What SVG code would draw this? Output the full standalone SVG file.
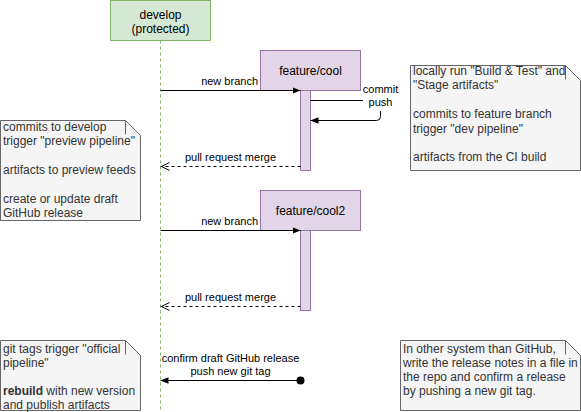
<svg xmlns="http://www.w3.org/2000/svg" width="581" height="412" viewBox="0 0 581 412">
<style>
text{font-family:"Liberation Sans",Arial,Helvetica,sans-serif;fill:#000}
.t12{font-size:12px}
.t11{font-size:11px}
.note{fill:#f5f5f5;stroke:#666666;stroke-width:1}
.fold{fill:none;stroke:#666666;stroke-width:1}
.nt{font-size:12px;fill:#333333}
.lane{fill:#d5e8d4;stroke:#82b366}
.feat{fill:#e1d5e7;stroke:#9673a6}
.life{stroke:#82b366;stroke-dasharray:3 3;fill:none}
.msg{stroke:#000;fill:none;stroke-width:1}
.dash{stroke-dasharray:3 3}
</style>
<defs>
<marker id="block" viewBox="0 0 10 10" refX="10" refY="5" markerWidth="8" markerHeight="8" markerUnits="userSpaceOnUse" orient="auto">
<path d="M0,1 L10,5 L0,9 Z" fill="#000"/>
</marker>
<marker id="open" viewBox="0 0 10 10" refX="10" refY="5" markerWidth="10" markerHeight="10" markerUnits="userSpaceOnUse" orient="auto">
<path d="M1,1 L9,5 L1,9" fill="none" stroke="#000" stroke-width="1"/>
</marker>
</defs>

<g id="develop">
<rect class="lane" x="110.5" y="0.5" width="100" height="40"/>
<text class="t12" x="160.5" y="18.5" text-anchor="middle">develop</text>
<text class="t12" x="160.5" y="32.5" text-anchor="middle">(protected)</text>
<line class="life" x1="160.5" y1="40.5" x2="160.5" y2="412"/>
</g>

<g id="feature-cool">
<rect class="feat" x="260.5" y="50.5" width="100" height="40"/>
<text class="t12" x="310.5" y="74.5" text-anchor="middle">feature/cool</text>
<rect class="feat" x="300.5" y="90.5" width="10" height="80"/>
</g>

<g id="feature-cool2">
<rect class="feat" x="260.5" y="190.5" width="100" height="40"/>
<text class="t12" x="310.5" y="214.5" text-anchor="middle">feature/cool2</text>
<rect class="feat" x="300.5" y="230.5" width="10" height="80"/>
</g>

<g id="connectors">
<line class="msg" x1="160.5" y1="90.5" x2="300.5" y2="90.5" marker-end="url(#block)"/>
<text class="t11" x="258" y="85" text-anchor="end">new branch</text>

<path class="msg" d="M310.5,100.5 H380.5 V116.5 Q380.5,120.5 376.5,120.5 H310.5" marker-end="url(#block)"/>
<rect x="363" y="83" width="35" height="28" fill="#fff"/>
<text class="t11" x="380.5" y="93" text-anchor="middle">commit</text>
<text class="t11" x="380.5" y="106" text-anchor="middle">push</text>

<line class="msg dash" x1="300.5" y1="166.5" x2="160.5" y2="166.5" marker-end="url(#open)"/>
<text class="t11" x="230.5" y="161" text-anchor="middle">pull request merge</text>

<line class="msg" x1="160.5" y1="230.5" x2="300.5" y2="230.5" marker-end="url(#block)"/>
<text class="t11" x="258" y="225" text-anchor="end">new branch</text>

<line class="msg dash" x1="300.5" y1="306.5" x2="160.5" y2="306.5" marker-end="url(#open)"/>
<text class="t11" x="230.5" y="301" text-anchor="middle">pull request merge</text>

<line class="msg" x1="300.5" y1="380.5" x2="160.5" y2="380.5" marker-end="url(#block)"/>
<circle cx="300.5" cy="380.5" r="4" fill="#000"/>
<text class="t11" x="230.5" y="362" text-anchor="middle">confirm draft GitHub release</text>
<text class="t11" x="230.5" y="375" text-anchor="middle">push new git tag</text>
</g>

<g id="note-local">
<path class="note" d="M410.5,65.5 H565.5 L580.5,80.5 V170.5 H410.5 Z"/>
<path class="fold" d="M565.5,65.5 V79.5"/>
<text class="nt" x="413" y="75">locally run "Build &amp; Test" and</text>
<text class="nt" x="413" y="89.4">"Stage artifacts"</text>
<text class="nt" x="413" y="118.2">commits to feature branch</text>
<text class="nt" x="413" y="132.6">trigger "dev pipeline"</text>
<text class="nt" x="413" y="161.4">artifacts from the CI build</text>
</g>

<g id="note-develop">
<path class="note" d="M0.5,120.5 H125.5 L140.5,135.5 V220.5 H0.5 Z"/>
<path class="fold" d="M125.5,120.5 V134.5"/>
<text class="nt" x="3" y="130.5">commits to develop</text>
<text class="nt" x="3" y="144.9">trigger "preview pipeline"</text>
<text class="nt" x="3" y="173.7">artifacts to preview feeds</text>
<text class="nt" x="3" y="202.5">create or update draft</text>
<text class="nt" x="3" y="216.9">GitHub release</text>
</g>

<g id="note-tags">
<path class="note" d="M0.5,340.5 H125.5 L140.5,355.5 V410.5 H0.5 Z"/>
<path class="fold" d="M125.5,340.5 V354.5"/>
<text class="nt" x="3" y="352.5">git tags trigger "official</text>
<text class="nt" x="3" y="366.7">pipeline"</text>
<text class="nt" x="3" y="395.1"><tspan font-weight="bold">rebuild</tspan> with new version</text>
<text class="nt" x="3" y="409.3">and publish artifacts</text>
</g>

<g id="note-other">
<path class="note" d="M400.5,340.5 H565.5 L580.5,355.5 V410.5 H400.5 Z"/>
<path class="fold" d="M565.5,340.5 V354.5"/>
<text class="nt" x="403" y="353">In other system than GitHub,</text>
<text class="nt" x="403" y="367">write the release notes in a file in</text>
<text class="nt" x="403" y="381">the repo and confirm a release</text>
<text class="nt" x="403" y="395">by pushing a new git tag.</text>
</g>
</svg>
